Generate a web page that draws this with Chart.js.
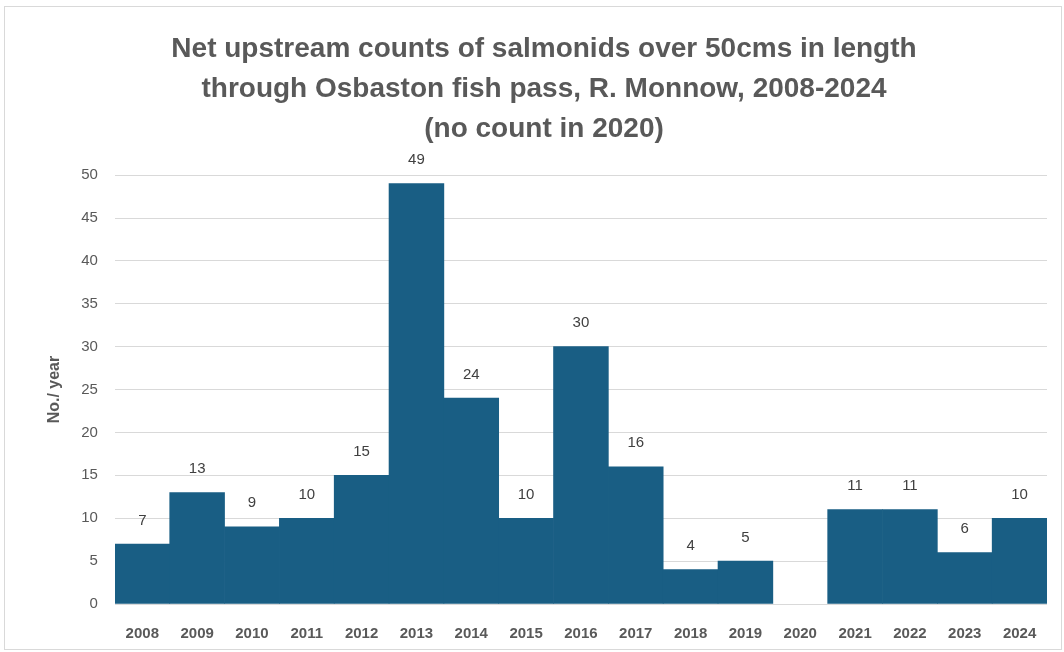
<!DOCTYPE html>
<html>
<head>
<meta charset="utf-8">
<script src="https://cdn.jsdelivr.net/npm/chart.js@4.4.1/dist/chart.umd.min.js"></script>
<style>
  html, body { margin: 0; padding: 0; background: #fff; }
  #wrap { position: absolute; left: 4px; top: 6px; width: 1058px; height: 644px; border: 1px solid #d9d9d9; box-sizing: border-box; }
</style>
</head>
<body>
<div id="wrap"><canvas id="myChart"></canvas></div>
<script>
const years = ['2008','2009','2010','2011','2012','2013','2014','2015','2016','2017','2018','2019','2020','2021','2022','2023','2024']
const counts = [7, 13, 9, 10, 15, 49, 24, 10, 30, 16, 4, 5, null, 11, 11, 6, 10]
const yTicks = [0, 5, 10, 15, 20, 25, 30, 35, 40, 45, 50]

// value labels above the bars
const barLabels = {
  id: 'barLabels',
  afterDatasetsDraw(chart) {
    const c = chart.ctx
    const meta = chart.getDatasetMeta(0)
    c.save()
    c.font = '15px "Liberation Sans", Arial, sans-serif'
    c.fillStyle = '#404040'
    c.textAlign = 'center'
    c.textBaseline = 'bottom'
    meta.data.forEach((bar, i) => {
      if (counts[i] == null) return
      c.fillText(counts[i], bar.x, bar.y - 16)
    })
    c.restore()
  }
}

const ctx = document.getElementById('myChart')
const myChart = new Chart(ctx, {
  type: 'bar',
  data: {
    labels: years,
    datasets: [{
      data: counts,
      backgroundColor: '#195e84',
      borderWidth: 0,
      categoryPercentage: 1,
      barPercentage: 1
    }]
  },
  options: {
    responsive: true,
    maintainAspectRatio: false,
    animation: false,
    layout: { padding: { left: 36, right: 14, top: 18, bottom: -7 } },
    plugins: {
      legend: { display: false },
      tooltip: { enabled: false },
      title: {
        display: true,
        text: ['Net upstream counts of salmonids over 50cms in length', 'through Osbaston fish pass, R. Monnow, 2008-2024', '(no count in 2020)'],
        color: '#595959',
        font: { family: '"Liberation Sans Narrow", "Liberation Sans", Arial, sans-serif', size: 28, weight: 'bold', lineHeight: 1.43 },
        padding: { top: 4, bottom: 26 }
      }
    },
    scales: {
      x: {
        grid: { display: false },
        border: { display: false },
        ticks: { color: '#595959', font: { family: '"Liberation Sans", Arial, sans-serif', size: 15, weight: 'bold' }, padding: 13, maxRotation: 0 }
      },
      y: {
        min: 0,
        max: 50,
        afterBuildTicks: axis => { axis.ticks = yTicks.map(v => ({ value: v })) },
        grid: { color: '#d9d9d9', lineWidth: 1, drawTicks: false },
        border: { display: false },
        ticks: { color: '#595959', font: { family: '"Liberation Sans", Arial, sans-serif', size: 15 }, padding: 17 },
        title: { display: true, text: 'No./ year', color: '#595959', font: { family: '"Liberation Sans", Arial, sans-serif', size: 16, weight: 'bold' }, padding: { bottom: 0 } }
      }
    }
  },
  plugins: [barLabels]
})
</script>
</body>
</html>
